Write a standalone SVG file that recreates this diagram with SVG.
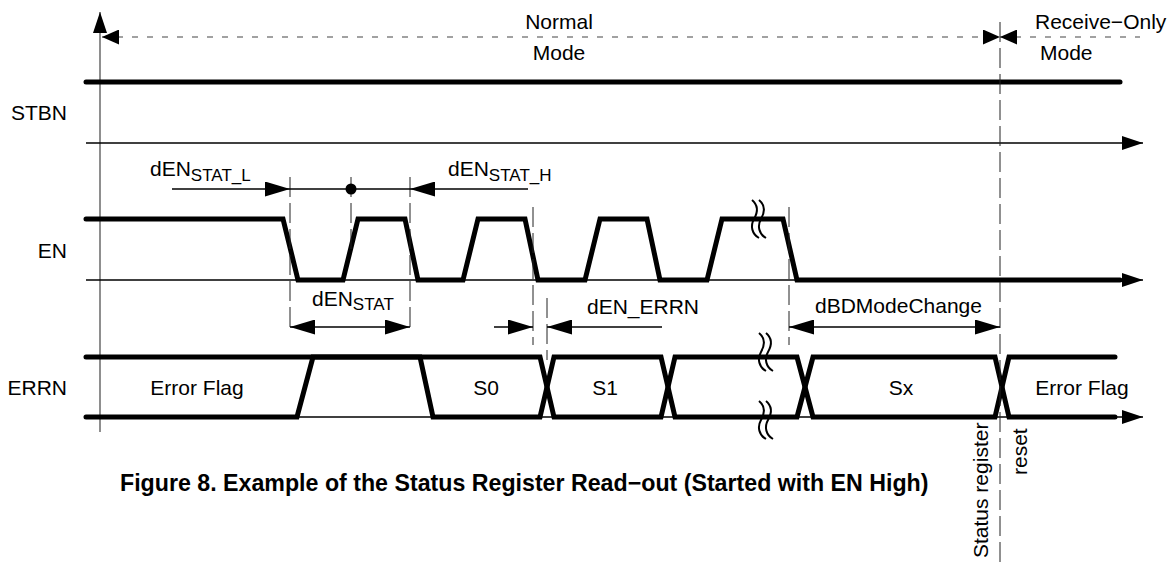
<svg xmlns="http://www.w3.org/2000/svg" width="1174" height="563" viewBox="0 0 1174 563">
<style>
text{font-family:"Liberation Sans",Arial,sans-serif;font-size:21px;fill:#000}
.sub{font-size:17px}
.cap{font-weight:bold;font-size:23.2px}
.thick{fill:none;stroke:#000;stroke-width:5;stroke-linecap:round;stroke-linejoin:miter}
.thin{fill:none;stroke:#000;stroke-width:1.3}
.axis{fill:none;stroke:#444;stroke-width:1.2}
.dash{fill:none;stroke:#222;stroke-width:1;stroke-dasharray:20 6}
.mdash{fill:none;stroke:#444;stroke-width:1.2;stroke-dasharray:6 9}
.wave{fill:none;stroke:#000;stroke-width:2}
.dim{fill:none;stroke:#000;stroke-width:1.5}
</style>
<defs>
<marker id="ah" viewBox="0 0 25 15" refX="25" refY="7.5" markerWidth="25" markerHeight="15" markerUnits="userSpaceOnUse" orient="auto-start-reverse"><path d="M0,0L25,7.5L0,15z"/></marker>
<marker id="as" viewBox="0 0 17 15" refX="17" refY="7.5" markerWidth="17" markerHeight="15" markerUnits="userSpaceOnUse" orient="auto-start-reverse"><path d="M0,0L17,7.5L0,15z"/></marker>
<marker id="ab" viewBox="0 0 21 14" refX="21" refY="7" markerWidth="21" markerHeight="14" markerUnits="userSpaceOnUse" orient="auto"><path d="M0,0L21,7L0,14z"/></marker>
<path id="sq" d="M0,0 c6,5 6,12 2,19 c-4,7 -2,15 5,19"/>
</defs>

<g id="axis">
<path class="axis" d="M100,432 V12" marker-end="url(#ab)"/>
</g>

<g id="mode">
<path class="mdash" d="M102,37 H1000" marker-start="url(#as)" marker-end="url(#as)"/>
<path class="mdash" d="M1000,37 H1140" marker-start="url(#as)"/>
<text x="559" y="29" text-anchor="middle">Normal</text>
<text x="559" y="60" text-anchor="middle">Mode</text>
<text x="1035" y="29">Receive−Only</text>
<text x="1040" y="60">Mode</text>
</g>

<g id="stbn">
<text x="67" y="120" text-anchor="end">STBN</text>
<path class="thick" d="M86,82 H1120"/>
<path class="thin" d="M86,143 H1143" marker-end="url(#ab)"/>
</g>

<g id="en">
<text x="67" y="258" text-anchor="end">EN</text>
<path class="thin" d="M86,280 H1143" marker-end="url(#ab)"/>
<path class="thick" d="M86,219 H283 L298,280 H343 L358,219 H405 L418,280 H463 L478,219 H525 L538,280 H585 L600,219 H647 L660,280 H707 L722,219 H783 L797,280 H1120"/>
<use href="#sq" class="wave" x="752" y="200"/>
<use href="#sq" class="wave" x="759" y="200"/>
</g>

<g id="errn">
<text x="67" y="395" text-anchor="end">ERRN</text>
<path class="thin" d="M86,417 H1143" marker-end="url(#ab)"/>
<path class="thick" d="M86,357 H420 L433,417 H540 L554,357 H661 L675,417 H797 L813,357 H995 L1009,417 H1115"/>
<path class="thick" d="M86,417 H297 L313,357 H540 L554,417 H661 L675,357 H797 L813,417 H995 L1009,357 H1115"/>
<use href="#sq" class="wave" x="759" y="333"/>
<use href="#sq" class="wave" x="766" y="333"/>
<use href="#sq" class="wave" x="759" y="401"/>
<use href="#sq" class="wave" x="766" y="401"/>
<text x="197" y="395" text-anchor="middle">Error Flag</text>
<text x="486" y="395" text-anchor="middle">S0</text>
<text x="605" y="395" text-anchor="middle">S1</text>
<text x="901" y="395" text-anchor="middle">Sx</text>
<text x="1082" y="395" text-anchor="middle">Error Flag</text>
</g>

<g id="guides">
<path class="dash" d="M290,177 V333"/>
<path class="dash" d="M351,177 V252"/>
<path class="dash" d="M410,177 V333"/>
<path class="dash" d="M533,207 V345"/>
<path class="dash" d="M547,298 V360"/>
<path class="dash" d="M789,207 V345"/>
<path class="dash" d="M1000,22 V563"/>
</g>

<g id="connectors">
<path class="dim" d="M172,189 H290" marker-end="url(#ah)"/>
<path class="dim" d="M290,189 H410"/>
<circle cx="351" cy="189" r="5.5"/>
<path class="dim" d="M528,189 H410" marker-end="url(#ah)"/>
<path class="dim" d="M290,327 H410" marker-start="url(#ah)" marker-end="url(#ah)"/>
<path class="dim" d="M494,327 H533" marker-end="url(#ah)"/>
<path class="dim" d="M662,327 H547" marker-end="url(#ah)"/>
<path class="dim" d="M789,327 H1000" marker-start="url(#ah)" marker-end="url(#ah)"/>
</g>

<g id="labels">
<text x="150" y="176">dEN<tspan class="sub" dy="5">STAT_L</tspan></text>
<text x="448" y="176">dEN<tspan class="sub" dy="5">STAT_H</tspan></text>
<text x="312" y="306">dEN<tspan class="sub" dy="4">STAT</tspan></text>
<text x="587" y="314">dEN_ERRN</text>
<text x="815" y="313">dBDModeChange</text>
<text transform="translate(988,558) rotate(-90)">Status register</text>
<text transform="translate(1027,475) rotate(-90)">reset</text>
</g>

<g id="caption">
<text class="cap" x="120" y="491">Figure 8. Example of the Status Register Read−out (Started with EN High)</text>
</g>
</svg>
